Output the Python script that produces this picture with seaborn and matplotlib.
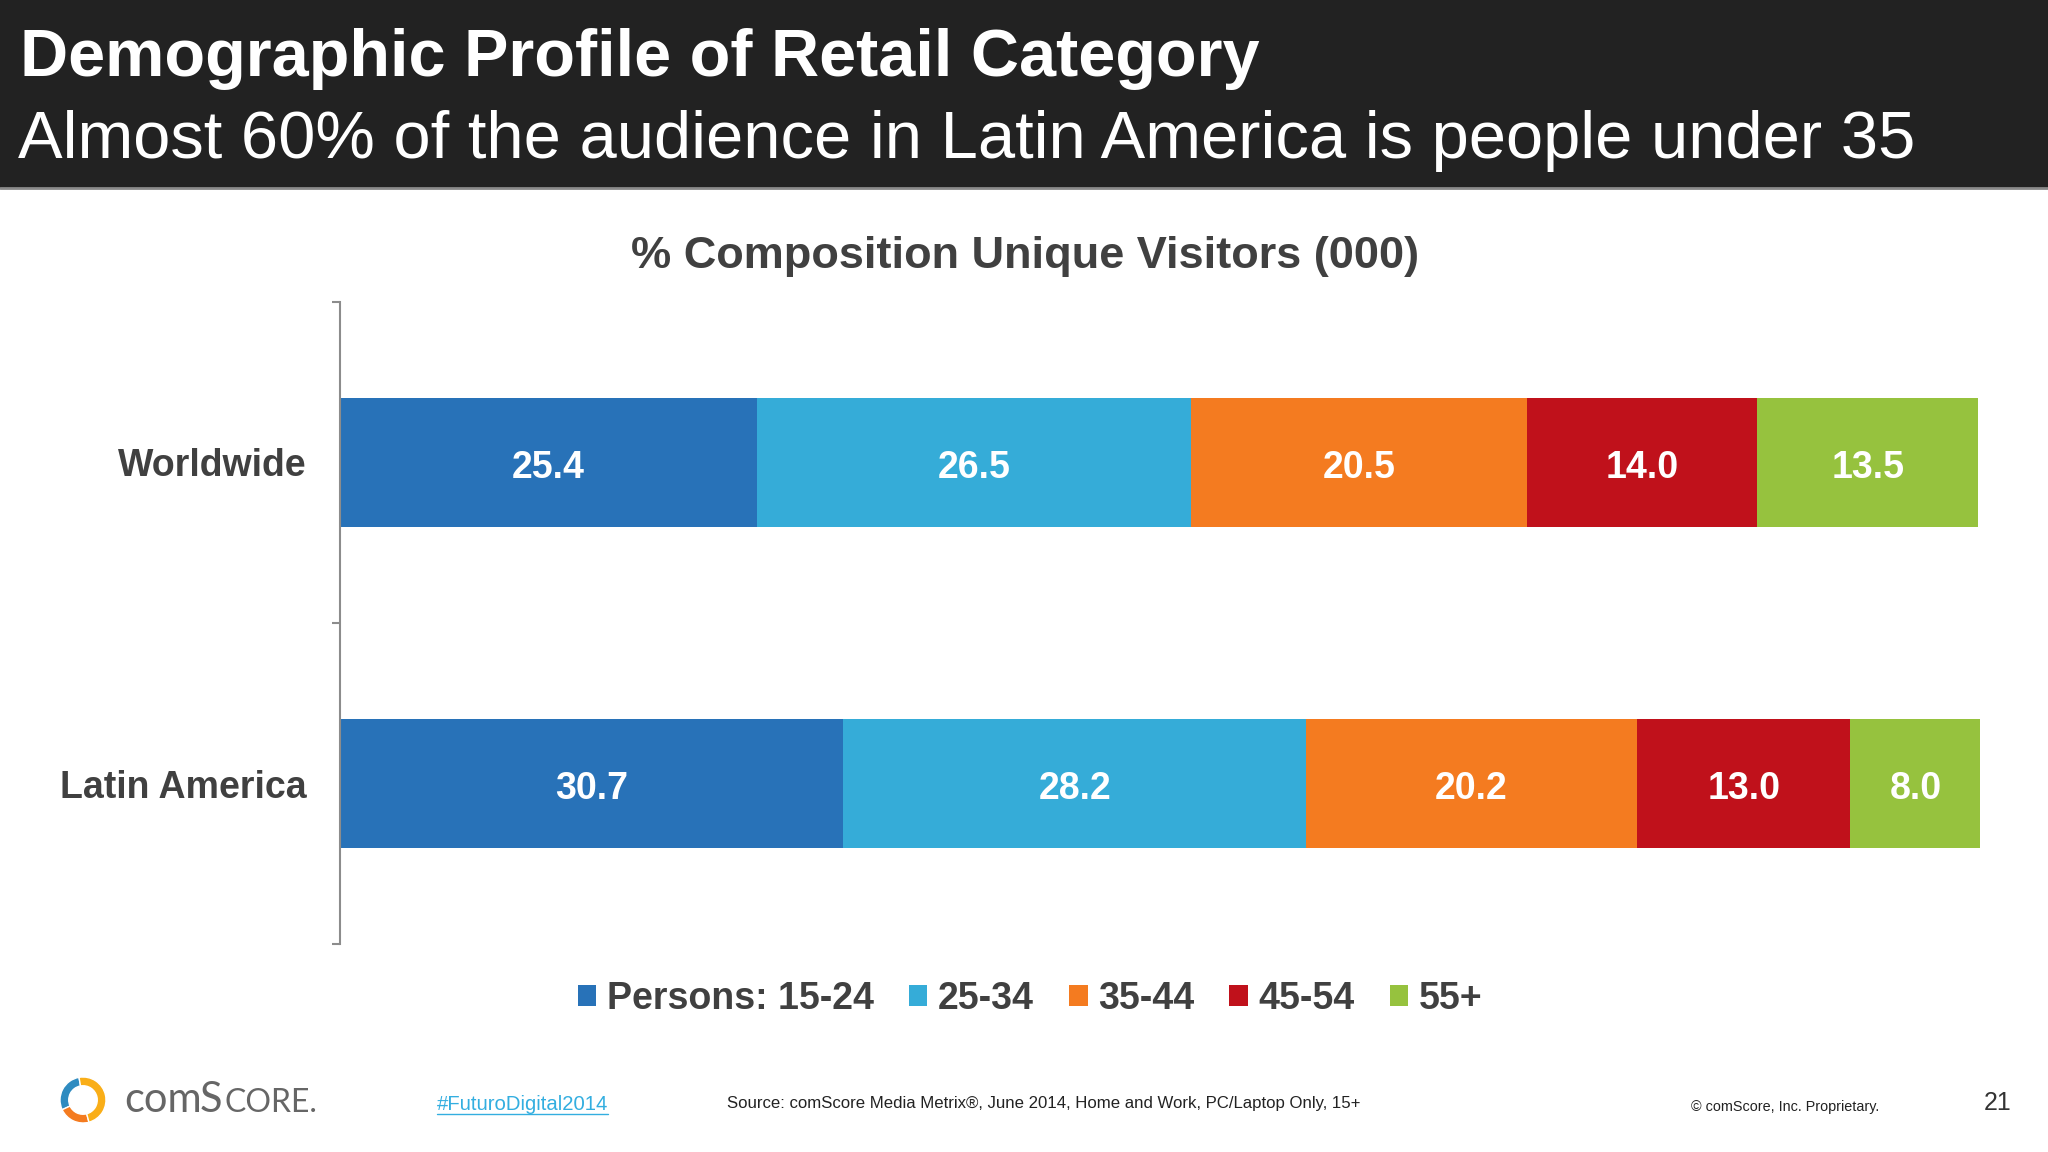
import numpy as np
import pandas as pd
import matplotlib
matplotlib.use('Agg')
import matplotlib.pyplot as plt
import matplotlib.patches as mpatches
import matplotlib.lines as mlines
import seaborn as sns

# Chart data
regions = ['Worldwide', 'Latin America']
age_groups = ['Persons: 15-24', '25-34', '35-44', '45-54', '55+']
worldwide = [25.4, 26.5, 20.5, 14.0, 13.5]
latin_america = [30.7, 28.2, 20.2, 13.0, 8.0]
colors = ['#2872B8', '#35ACD8', '#F47B20', '#C0111B', '#96C23E']

TEXT_GRAY = '#404040'
W, H = 2048, 1152


def fx(px):
    return px / W


def fy(px):
    return 1 - px / H


sns.set_style('white')
plt.rcParams['font.family'] = ['Liberation Sans', 'DejaVu Sans']

fig = plt.figure(figsize=(20.48, 11.52), dpi=100)

# --- header band ---
fig.patches.append(mpatches.Rectangle((0, fy(188)), 1, 1 - fy(188), transform=fig.transFigure,
                                      facecolor='#222222', edgecolor='none', zorder=0))
fig.lines.append(mlines.Line2D([0, 1], [fy(188), fy(188)], transform=fig.transFigure,
                               color='#8a8a8a', lw=2))
fig.text(fx(20), fy(76), 'Demographic Profile of Retail Category', color='white',
         fontsize=48, fontweight='bold', va='baseline', ha='left')
fig.text(fx(18), fy(158), 'Almost 60% of the audience in Latin America is people under 35',
         color='white', fontsize=48.2, va='baseline', ha='left')

# --- chart ---
df = pd.DataFrame([worldwide, latin_america], columns=age_groups)
df.insert(0, 'Region', regions)
cum = df[age_groups].cumsum(axis=1)

ax = fig.add_axes([fx(340), fy(944), fx(1980) - fx(340), fy(302) - fy(944)])

# draw cumulative totals from the longest down so each segment shows
for i in reversed(range(len(age_groups))):
    sns.barplot(x=cum[age_groups[i]], y=df['Region'], color=colors[i], orient='h',
                width=0.4, errorbar=None, linewidth=0, saturation=1, ax=ax)

for r in range(len(regions)):
    start = 0
    for i, g in enumerate(age_groups):
        val = df.loc[r, g]
        ax.text(start + val / 2, r + 0.016, f'{val:.1f}', color='white', fontsize=27,
                fontweight='bold', ha='center', va='center')
        start += val

ax.set_xlim(0, 100)
ax.set_ylim(1.5, -0.5)
ax.set_xlabel('')
ax.set_ylabel('')
ax.xaxis.set_visible(False)
for s in ['top', 'right', 'bottom']:
    ax.spines[s].set_visible(False)
ax.spines['left'].set_color('#8c8c8c')
ax.spines['left'].set_linewidth(1.5)
ax.set_yticks(range(len(regions)))
ax.set_yticklabels(regions, fontsize=27, fontweight='bold', color=TEXT_GRAY)
ax.tick_params(axis='y', which='major', length=0, pad=24)
ax.set_yticks([-0.5, 0.5, 1.5], minor=True)
ax.tick_params(axis='y', which='minor', length=6, width=1.5, color='#8c8c8c', left=True)

fig.text(0.5005, fy(268), '% Composition Unique Visitors (000)', color=TEXT_GRAY,
         fontsize=32.5, fontweight='bold', ha='center', va='baseline')

# --- legend ---
handles = [mpatches.Patch(facecolor=c, edgecolor='none') for c in colors]
leg = fig.legend(handles, age_groups, loc='center', bbox_to_anchor=(fx(1030), fy(999)),
                 ncol=5, frameon=False, handlelength=0.5, handleheight=0.5,
                 handletextpad=0.28, columnspacing=0.93,
                 prop={'size': 27, 'weight': 'bold'})
for t in leg.get_texts():
    t.set_color(TEXT_GRAY)

# --- footer ---
lax = fig.add_axes([fx(60), fy(1123), fx(46), 46 / H])
lax.set_xlim(-1, 1)
lax.set_ylim(-1, 1)
lax.set_aspect('equal')
lax.axis('off')
lax.add_patch(mpatches.Wedge((0, 0), 1, 100, 205, width=0.38, facecolor='#2E8BC0'))
lax.add_patch(mpatches.Wedge((0, 0), 1, 205, 285, width=0.38, facecolor='#F47B20'))
lax.add_patch(mpatches.Wedge((0, 0), 1, 285, 460, width=0.38, facecolor='#F9AE18'))

logo_gray = '#666666'
fig.text(fx(124), fy(1112), 'com', color=logo_gray, fontsize=30, family='Lato',
         va='baseline')
fig.text(fx(200), fy(1112), 'S', color=logo_gray, fontsize=30, family='Lato',
         va='baseline')
fig.text(fx(224), fy(1112), 'CORE.', color=logo_gray, fontsize=23, family='Lato',
         va='baseline')

fig.text(fx(437), fy(1110), '#FuturoDigital2014', color='#33AEE0', fontsize=14.6,
         va='baseline')
fig.lines.append(mlines.Line2D([fx(437), fx(608)], [fy(1114), fy(1114)],
                               transform=fig.transFigure, color='#33AEE0', lw=1))
fig.text(fx(727), fy(1108), 'Source: comScore Media Metrix®, June 2014, Home and Work, PC/Laptop Only, 15+',
         color='#222222', fontsize=12.1, va='baseline')
fig.text(fx(1691), fy(1111), '© comScore, Inc. Proprietary.', color='#222222', fontsize=10.4,
         va='baseline')
fig.text(fx(1984), fy(1110), '21', color='#333333', fontsize=18, va='baseline')

fig.savefig('out.png', dpi=100, facecolor='white')
